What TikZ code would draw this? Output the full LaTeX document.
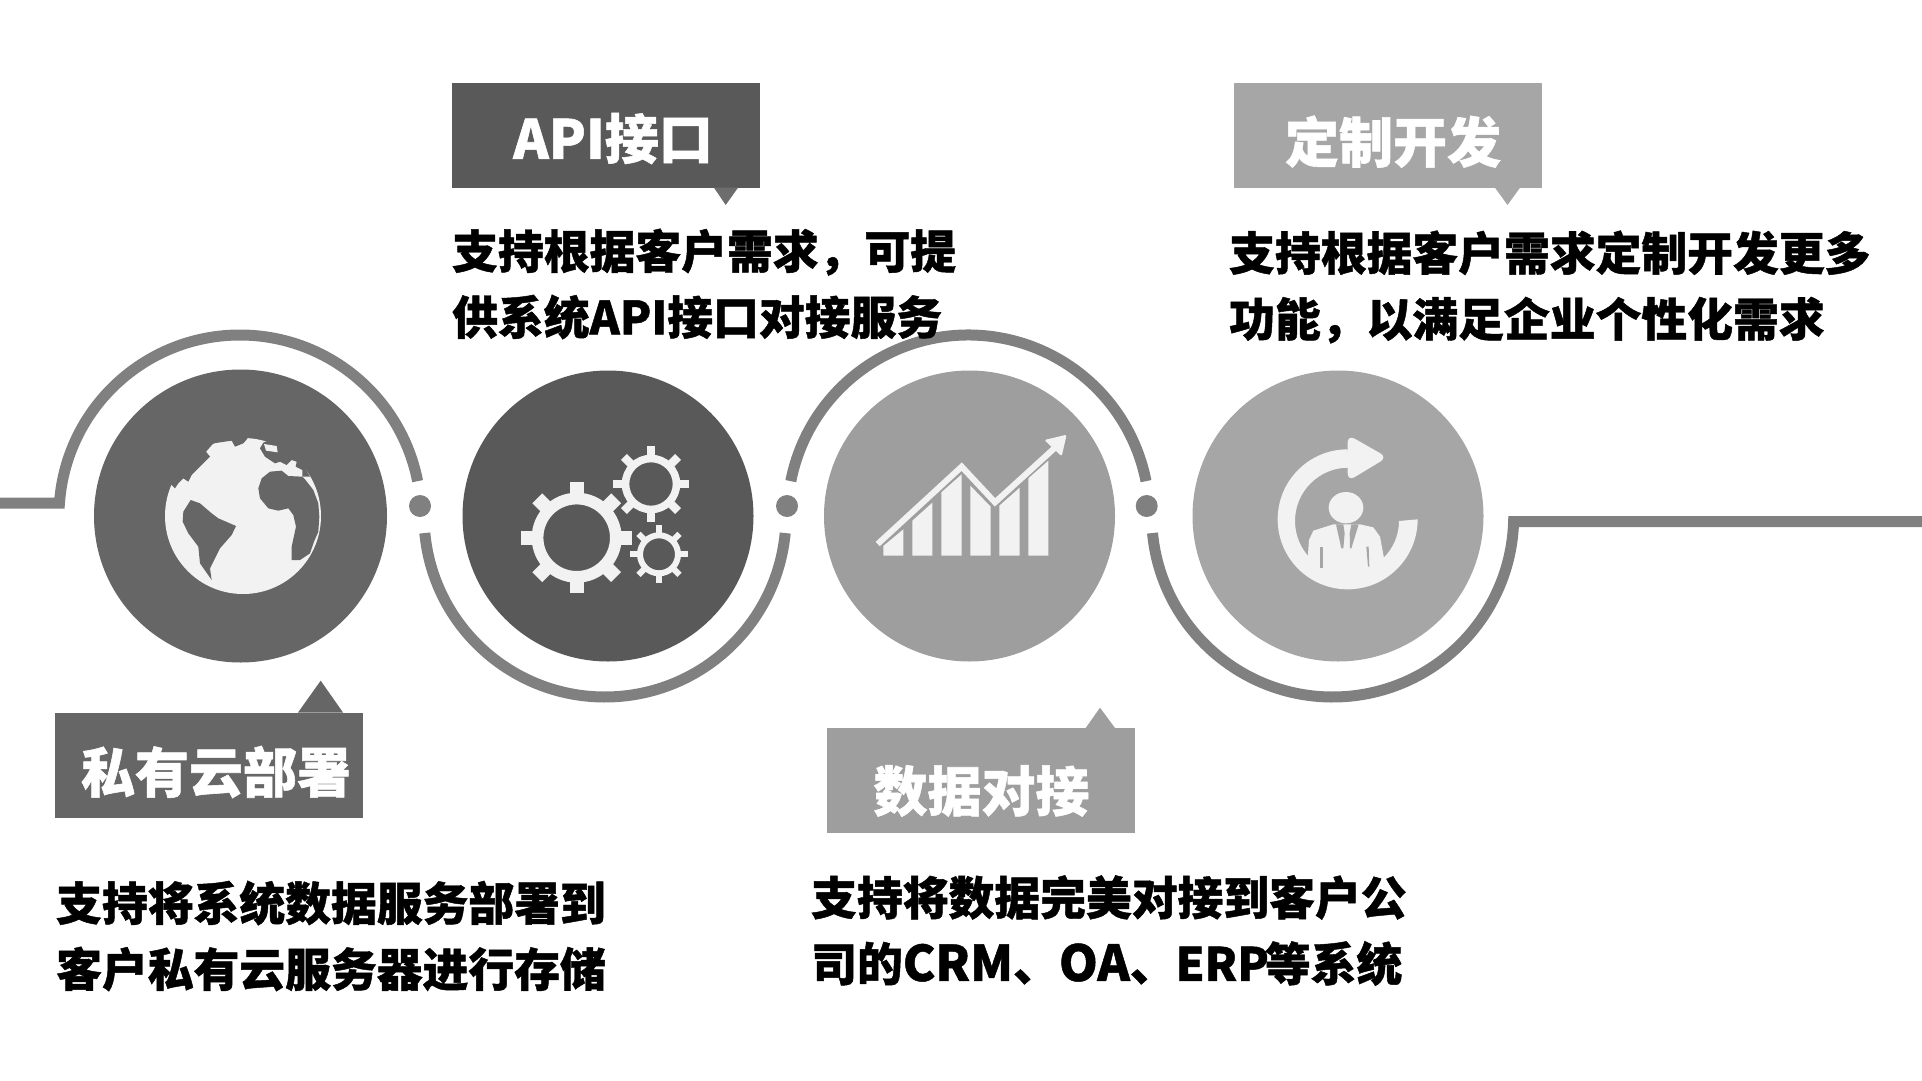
\documentclass[tikz,border=0pt]{standalone}
\usepackage{fontspec}
\setmainfont{Noto Sans CJK SC}[BoldFeatures={FakeBold=1}]
\usetikzlibrary{calc}
\begin{document}
\begin{tikzpicture}[
        x = 1pt, y = -1pt,
        disc/.style = {circle, minimum size = 291pt, inner sep = 0pt},
        joint/.style = {circle, fill = trackgray, minimum size = 22pt, inner sep = 0pt},
        track/.style = {draw = trackgray, line width = 11pt},
        tag/.style = {minimum width = 308pt, minimum height = 105pt, inner sep = 0pt},
        tagtext/.style = {inner sep = 0pt, text = white, font = \fontsize{54}{60}\bfseries\selectfont},
        body/.style = {anchor = west, inner sep = 0pt, align = left, font = \fontsize{45.8}{66}\bfseries\selectfont},
        icon/.style = {fill = iconwhite}
    ]
        \definecolor{trackgray}{HTML}{808080}
        \definecolor{iconwhite}{HTML}{F2F2F2}
        \definecolor{darkA}{HTML}{666666}
        \definecolor{darkB}{HTML}{595959}
        \definecolor{lightA}{HTML}{9E9E9E}
        \definecolor{lightB}{HTML}{A6A6A6}
        \useasboundingbox (0,0) rectangle (1922,1081);

        \coordinate (arcA) at (240,516);
        \coordinate (arcB) at (605,516);
        \coordinate (arcC) at (968.4,516);
        \coordinate (arcD) at (1332.7,516);
        \coordinate (lineL) at (0,503);
        \coordinate (lineR) at (1922,521.7);
        \draw[track] (lineL) -- ($(arcA)+(184.1:181)$) arc[start angle = 184.1, end angle = 348.9, radius = 181];
        \draw[track] ($(arcB)+(174.6:181)$) arc[start angle = 174.6, end angle = 5.4, radius = 181];
        \draw[track] ($(arcC)+(191.1:181)$) arc[start angle = 191.1, end angle = 348.9, radius = 181];
        \draw[track] ($(arcD)+(174.6:181)$) arc[start angle = 174.6, end angle = 1.8, radius = 181] -- (lineR);

        \node[joint] (jointA) at (420,506) {};
        \node[joint] (jointB) at (787,506) {};
        \node[joint] (jointC) at (1146.7,506) {};

        \node[disc, fill = darkA, minimum size = 293pt] (discA) at (240.5,516) {};
        \node[disc, fill = darkB] (discB) at (608,516) {};
        \node[disc, fill = lightA] (discC) at (969.5,516) {};
        \node[disc, fill = lightB] (discD) at (1338,516) {};

        \begin{scope}[shift = {(150,420)}, scale = 1/3]
            \fill[iconwhite] (279,288) circle (234);
            \fill[darkA] (395,152) -- (360,155) -- (335,175) -- (325,205) -- (330,235) -- (355,265) -- (385,272) -- (415,265) -- (430,285) -- (438,320) -- (425,380) -- (425,420) -- (450,420) -- (480,400) -- (492,365) -- (505,335) -- (508,290) -- (505,250) -- (490,210) -- (465,178) -- (457,170) -- (415,168) -- cycle;
            \fill[darkA] (340,68) -- (330,85) -- (345,110) -- (375,130) -- (390,125) -- (410,135) -- (425,120) -- (440,125) -- (437,140) -- (457,150) -- (457,170) -- (480,170) -- (440,100) -- (370,55) -- cycle;
            \fill[iconwhite] (342,72) -- (380,78) -- (383,97) -- (348,92) -- cycle;
            \fill[darkA] (65,195) -- (75,205) -- (85,190) -- (100,175) -- (115,185) -- (125,165) -- (145,145) -- (180,110) -- (168,95) -- (190,70) -- (245,62) -- (255,80) -- (280,70) -- (293,55) -- (200,40) -- (100,90) -- (45,180) -- cycle;
            \fill[darkA] (122,240) -- (150,250) -- (185,280) -- (205,295) -- (258,318) -- (245,345) -- (210,385) -- (190,425) -- (180,445) -- (185,480) -- (150,430) -- (145,380) -- (115,340) -- (98,305) -- (100,275) -- cycle;
        \end{scope}

        \foreach \cx/\cy/\ri/\ro/\tip/\tw in {576.7/537.7/33.3/45/55.7/14, 651/484/21.7/29.3/38.3/8.3, 659/554.3/16/22/29/6} {
            \pgfmathsetmacro{\rmid}{(\ri+\ro)/2}
            \pgfmathsetmacro{\rw}{\ro-\ri}
            \draw[iconwhite, line width = \rw pt] (\cx,\cy) circle (\rmid);
            \foreach \a in {0,45,...,315} {
                \draw[iconwhite, line width = \tw pt] ($(\cx,\cy)+(\a:\ro-1)$) -- ($(\cx,\cy)+(\a:\tip)$);
            }
        }

        \begin{scope}[shift = {(780,320)}, scale = 1/3]
            \foreach \xa/\xb/\ya/\yb in {310/370/678/628, 397/457/602/548, 484/545/517/463, 571/632/497/560, 658/719/557/503, 745/805/475/422} {
                \fill[icon] (\xa,707) -- (\xa,\ya) -- (\xb,\yb) -- (\xb,707) -- cycle;
            }
            \draw[iconwhite, line width = 6pt] (293,672) -- (545,440) -- (645,547) -- (825,383);
            \fill[icon, rounded corners = 2pt] (860,344) -- (793,360) -- (845,409) -- cycle;
        \end{scope}

        \begin{scope}[shift = {(1130,340)}, scale = 1/3]
            \fill[icon] (863,538) arc[start angle = 0, end angle = 270, radius = 210] -- (655,383) arc[start angle = 270, end angle = 90, radius = 160] -- (652,698) arc[start angle = 90, end angle = 0, radius = 155] -- cycle;
            \fill[icon, rounded corners = 8pt] (653,284) -- (772,352) -- (653,424) -- cycle;
            \fill[icon] (648,503) ellipse [x radius = 52, y radius = 47];
            \fill[icon] (533,655) -- (537,600) -- (550,572) -- (610,553) -- (690,553) -- (730,562) -- (750,590) -- (763,660) -- (700,720) -- (590,720) -- cycle;
            \fill[lightB] (618,553) -- (640,553) -- (644,580) -- (640,625) -- (634,625) -- cycle;
            \fill[lightB] (664,553) -- (686,553) -- (664,625) -- (660,625) -- (659,580) -- cycle;
            \fill[lightB] (570,620) rectangle (578,685);
            \fill[lightB] (709,620) -- (716,620) -- (718,680) -- (714,680) -- cycle;
        \end{scope}

        \node[tag, fill = darkA] (tagA) at (209,765) {};
        \coordinate (tipA) at (320.7,680.7);
        \fill[darkA] (tipA) -- (298,712.5) -- (343,712.5) -- cycle;
        \node[tag, fill = darkB] (tagB) at (606,135.2) {};
        \coordinate (tipB) at (725.7,205);
        \fill[trackgray!85!black] (tipB) -- (714,187.7) -- (738,187.7) -- cycle;
        \node[tag, fill = lightA] (tagC) at (980.5,780.2) {};
        \coordinate (tipC) at (1100,707.7);
        \fill[lightA] (tipC) -- (1085.7,728) -- (1115,728) -- cycle;
        \node[tag, fill = lightB] (tagD) at (1388,135.2) {};
        \coordinate (tipD) at (1507.5,205);
        \fill[lightB] (tipD) -- (1495,187.7) -- (1520,187.7) -- cycle;

        \node[tagtext] (titleA) at (216,772) {私有云部署};
        \node[tagtext] (titleB) at (613,138.5) {API接口};
        \node[tagtext] (titleC) at (981.5,791) {数据对接};
        \node[tagtext] (titleD) at (1393,141.7) {定制开发};

        \node[body] (textA) at (56,936) {支持将系统数据服务部署到\\客户私有云服务器进行存储};
        \node[body] (textB) at (452,284) {支持根据客户需求，可提\\供系统API接口对接服务};
        \node[body] (textC) at (811,930.5) {支持将数据完美对接到客户公\\司的{\fontsize{49}{66}\selectfont CRM}、{\fontsize{49.5}{66}\selectfont OA}、{\fontsize{46}{66}\selectfont ERP}\kern-4pt 等系统};
        \node[body] (textD) at (1229,287) {支持根据客户需求定制开发更多\\功能，以满足企业个性化需求};
    \end{tikzpicture}
\end{document}
